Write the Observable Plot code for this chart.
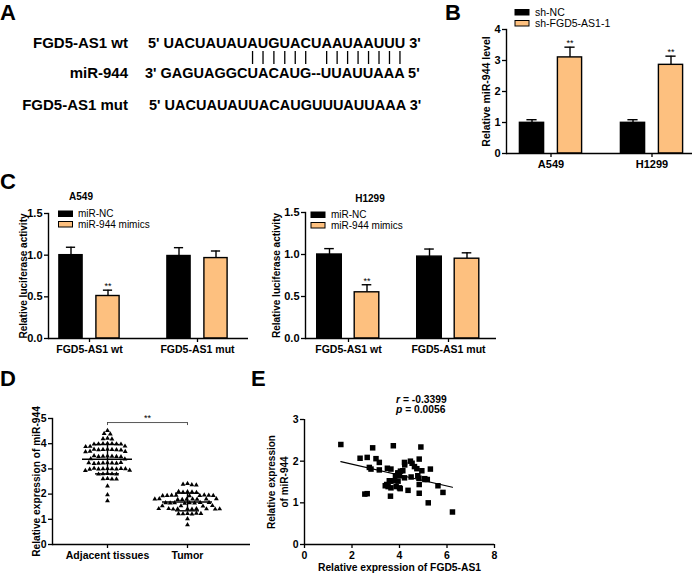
<!DOCTYPE html>
<html>
<head>
<meta charset="utf-8">
<script src="https://cdn.jsdelivr.net/npm/d3@7"></script>
<script src="https://cdn.jsdelivr.net/npm/@observablehq/plot@0.6"></script>
<style>
  html, body { margin: 0; padding: 0; background: #fff; }
  #fig { position: relative; width: 696px; height: 577px; overflow: hidden; background: #fff; }
  #fig svg { position: absolute; }
</style>
</head>
<body>
<div id="fig"></div>
<script>
const FONT = '"Liberation Sans", Arial, Helvetica, sans-serif';
const ORANGE = "#FDC07F";

// ---------- Panel A : sequences ----------
const seqNames = ["FGD5-AS1 wt", "miR-944", "FGD5-AS1 mut"];
const seqStrings = ["5' UACUAUAUAUGUACUAAUAAUUU 3'", "3' GAGUAGGCUACAUG--UUAUUAAA 5'", "5' UACUAUAUUACAUGUUUAUUAAA 3'"];
const pairedLetters = [8, 9, 10, 11, 12, 13, 15, 16, 17, 18, 19, 20, 21, 22];

// ---------- Panel B ----------
const bGroups = ["A549", "H1299"];
const bSeries = ["sh-NC", "sh-FGD5-AS1-1"];
const bNC = [0.99, 0.99];
const bNCErr = [0.10, 0.10];
const bSh = [3.10, 2.86];
const bShErr = [0.33, 0.28];
const bShSig = ["**", "**"];
const bTicks = [0, 1, 2, 3, 4];

// ---------- Panel C ----------
const cGroups = ["FGD5-AS1 wt", "FGD5-AS1 mut"];
const cSeries = ["miR-NC", "miR-944 mimics"];
const cA549NC = [1.00, 0.99];
const cA549NCErr = [0.095, 0.10];
const cA549Mim = [0.51, 0.965];
const cA549MimErr = [0.07, 0.085];
const cA549Sig = ["**", ""];
const cH1299NC = [1.00, 0.975];
const cH1299NCErr = [0.07, 0.09];
const cH1299Mim = [0.55, 0.95];
const cH1299MimErr = [0.09, 0.07];
const cH1299Sig = ["**", ""];
const cTicks = [0, 0.5, 1.0, 1.5];

// ---------- Panel D ----------
const dCats = ["Adjacent tissues", "Tumor"];
const dAdjacent = [4.52, 4.40, 4.38, 4.21, 4.19, 4.18,
  4.01, 4.00, 4.00, 3.99, 3.99, 3.98, 3.98, 3.90, 3.89, 3.88,
  3.78, 3.77, 3.77, 3.76, 3.76, 3.75, 3.78, 3.70, 3.69, 3.68,
  3.51, 3.50, 3.50, 3.49, 3.49, 3.48, 3.52, 3.40, 3.39,
  3.24, 3.23, 3.23, 3.22, 3.22, 3.21, 3.25, 3.24,
  3.01, 3.00, 3.00, 2.99, 2.99, 3.02, 3.01, 2.98, 3.00, 2.94, 2.93,
  2.81, 2.80, 2.80, 2.79, 2.79, 2.62, 2.61, 2.60, 2.60, 2.32, 1.97, 1.73];
const dTumor = [2.42, 2.39, 2.37, 2.36,
  2.09, 2.07, 2.08, 2.06, 2.10,
  1.95, 1.94, 1.95, 1.93, 1.96, 1.94, 1.95, 1.93, 1.94,
  1.79, 1.80, 1.78, 1.81, 1.79, 1.80, 1.78, 1.81, 1.80,
  1.65, 1.64, 1.66, 1.65, 1.63, 1.64, 1.66, 1.65,
  1.53, 1.52, 1.54, 1.53,
  1.41, 1.40, 1.42, 1.41, 1.40, 1.42, 1.41, 1.40, 1.42, 1.41,
  1.23, 1.22, 1.21, 1.24, 1.22, 1.23, 1.02, 0.78];
const dTicks = [0, 1, 2, 3, 4, 5];
const dSigY = 4.84;
const dSigDrop = 0.12;
const dSigLabel = "**";

// ---------- Panel E ----------
const eX = [1.53, 2.87, 3.74, 4.90, 2.34, 2.64, 3.01, 3.15, 2.73, 2.80, 3.15, 3.49, 3.64,
  4.46, 4.53, 4.83, 4.22, 4.63, 4.73, 4.94, 5.30, 3.93, 4.04, 4.14, 3.83, 4.00, 4.21,
  4.49, 4.77, 4.82, 5.07, 5.17, 3.63, 3.78, 3.94, 3.40, 3.52, 3.64, 3.86, 4.03, 4.83,
  5.62, 4.36, 3.62, 2.54, 2.64, 4.83, 5.83, 5.21, 6.23, 3.57, 3.46, 3.93, 4.21, 5.06, 4.00];
const eY = [2.40, 2.32, 2.37, 2.34, 2.07, 2.09, 2.06, 1.97, 1.85, 1.81, 1.79, 1.83, 1.81,
  2.00, 1.95, 2.05, 1.91, 1.87, 1.82, 1.77, 1.81, 1.72, 1.76, 1.77, 1.65, 1.65, 1.60,
  1.62, 1.65, 1.59, 1.56, 1.56, 1.52, 1.53, 1.52, 1.41, 1.39, 1.36, 1.39, 1.34, 1.44,
  1.41, 1.30, 1.16, 1.21, 1.22, 1.23, 1.25, 1.00, 0.78, 1.53, 1.44, 1.69, 1.97, 1.58, 1.36];
const eXTicks = [0, 2, 4, 6, 8];
const eYTicks = [0, 1, 2, 3];
const eStatR = "-0.3399";
const eStatP = "0.0056";

const fig = document.getElementById("fig");

function place(svg, left, top) {
  svg.style.left = left + "px";
  svg.style.top = top + "px";
  svg.style.position = "absolute";
  fig.appendChild(svg);
}

const baseStyle = { background: "transparent", fontFamily: FONT, fontWeight: "bold", color: "#000", overflow: "visible" };

// ---------- bar chart builder (B and C) ----------
function barChart(o) {
  const band = d3.scaleBand().domain(o.groups).range(o.xRange).paddingInner(0.2).paddingOuter(0.1);
  const bw = band.bandwidth();
  const marks = [];
  o.series.forEach((s, k) => {
    const rows = o.groups.map((g, i) => ({ g, v: o.values[k][i], e: o.errors[k][i], sig: o.sig[k][i] }));
    const off = o.offsets[k];
    const iL = bw / 2 + off - o.barW / 2;
    const iR = bw - iL - o.barW;
    const cL = bw / 2 + off - o.cap;
    const cR = bw - cL - 2 * o.cap;
    marks.push(Plot.ruleX(rows, { x: "g", y1: "v", y2: d => d.v + d.e, dx: off, stroke: "#000", strokeWidth: 1.4 }));
    marks.push(Plot.tickY(rows, { x: "g", y: d => d.v + d.e, insetLeft: cL, insetRight: cR, stroke: "#000", strokeWidth: 1.4 }));
    marks.push(Plot.barY(rows, { x: "g", y: "v", fill: k === 0 ? "#000" : ORANGE, stroke: "#000", strokeWidth: 1.4, insetLeft: iL, insetRight: iR }));
    marks.push(Plot.text(rows.filter(d => d.sig), { x: "g", y: d => d.v + d.e, text: "sig", dx: off, dy: -4, fontSize: 9, fontWeight: "normal" }));
  });
  marks.push(Plot.ruleY([0], { stroke: "#000", strokeWidth: 1.4 }));
  marks.push(Plot.frame({ anchor: "left", stroke: "#000", strokeWidth: 1.4 }));
  marks.push(Plot.axisY({ ticks: o.yTicks, tickFormat: o.fmt, tickSize: 4, tickPadding: 2, fontSize: o.tickFont, fontWeight: "bold", strokeWidth: 1.3, label: null }));
  marks.push(Plot.axisX({ tickSize: 4, tickPadding: 3, fontSize: o.xFont, fontWeight: "bold", strokeWidth: 1.3, label: null }));
  marks.push(Plot.text([o.yTitle], { text: d => d, frameAnchor: "left", textAnchor: "middle", rotate: -90, dx: o.titleDx, fontSize: o.titleFont, fontWeight: "bold" }));
  const svg = Plot.plot({
    width: o.width, height: o.height,
    marginLeft: o.mL, marginRight: o.mR, marginTop: o.mT, marginBottom: o.mB,
    x: { type: "band", domain: o.groups, range: o.xRange, paddingInner: 0.2, paddingOuter: 0.1 },
    y: { domain: [0, o.yMax] },
    style: baseStyle,
    marks
  });
  place(svg, o.left, o.top);
}

// Panel B
barChart({
  left: 470, top: 0, width: 226, height: 175, mL: 36, mR: 4, mT: 29, mB: 22,
  groups: bGroups, series: bSeries,
  values: [bNC, bSh], errors: [bNCErr, bShErr], sig: [["", ""], bShSig],
  yMax: 4, yTicks: bTicks, fmt: d3.format("d"),
  xRange: [29.5, 231.5], barW: 24, offsets: [-19, 19], cap: 5,
  tickFont: 11, xFont: 11, yTitle: "Relative miR-944 level", titleDx: -20, titleFont: 10.5
});

// Panel C - A549
barChart({
  left: 0, top: 185, width: 252, height: 180, mL: 48, mR: 4, mT: 28, mB: 27,
  groups: cGroups, series: cSeries,
  values: [cA549NC, cA549Mim], errors: [cA549NCErr, cA549MimErr], sig: [["", ""], cA549Sig],
  yMax: 1.5, yTicks: cTicks, fmt: d3.format(".1f"),
  xRange: [34.25, 251.25], barW: 24, offsets: [-18.5, 18.5], cap: 5,
  tickFont: 11, xFont: 10.5, yTitle: "Relative luciferase activity", titleDx: -25, titleFont: 10
});

// Panel C - H1299
barChart({
  left: 255, top: 185, width: 245, height: 180, mL: 50, mR: 4, mT: 27, mB: 27,
  groups: cGroups, series: cSeries,
  values: [cH1299NC, cH1299Mim], errors: [cH1299NCErr, cH1299MimErr], sig: [["", ""], cH1299Sig],
  yMax: 1.5, yTicks: cTicks, fmt: d3.format(".1f"),
  xRange: [42.75, 243.75], barW: 25, offsets: [-19, 18.5], cap: 5,
  tickFont: 11, xFont: 10.5, yTitle: "Relative luciferase activity", titleDx: -29, titleFont: 10
});

// ---------- Panel D ----------
(function () {
  const W = 255, H = 172, mL = 52, mR = 5, mT = 13, mB = 33;
  const xRange = [107, 187];
  const pos = d3.scalePoint().domain(dCats).range(xRange).padding(0);
  const mid = (mL + W - mR) / 2;
  const groups = [dAdjacent, dTumor];
  const summary = dCats.map((c, i) => ({ c, mean: d3.mean(groups[i]), sd: d3.deviation(groups[i]) }));
  const marks = [];
  dCats.forEach((c, i) => {
    const rows = groups[i].map(v => ({ c, v }));
    marks.push(Plot.dot(rows, Plot.dodgeX({ anchor: "middle", padding: 0.9 },
      { y: "v", r: 1.8, symbol: "triangle", fill: "#000", stroke: "none", dx: pos(c) - mid })));
  });
  marks.push(Plot.ruleY(summary, { x1: "c", x2: "c", y: "mean", insetLeft: -25, insetRight: -25, stroke: "#000", strokeWidth: 1.6 }));
  marks.push(Plot.ruleY(summary, { x1: "c", x2: "c", y: d => d.mean + d.sd, insetLeft: -12, insetRight: -12, stroke: "#000", strokeWidth: 1.4 }));
  marks.push(Plot.ruleY(summary, { x1: "c", x2: "c", y: d => d.mean - d.sd, insetLeft: -12, insetRight: -12, stroke: "#000", strokeWidth: 1.4 }));
  marks.push(Plot.ruleX(summary, { x: "c", y1: d => d.mean - d.sd, y2: d => d.mean + d.sd, stroke: "#000", strokeWidth: 1.4 }));
  // significance bracket
  marks.push(Plot.ruleY([dSigY], { x1: () => dCats[0], x2: () => dCats[1], y: d => d, stroke: "#444", strokeWidth: 0.9 }));
  marks.push(Plot.ruleX(dCats, { x: d => d, y1: dSigY - dSigDrop, y2: dSigY, stroke: "#444", strokeWidth: 0.9 }));
  marks.push(Plot.text([dSigLabel], { x: () => dCats[0], y: dSigY, text: d => d, dx: (pos(dCats[1]) - pos(dCats[0])) / 2, dy: -4, fontSize: 9, fontWeight: "normal" }));
  // axes
  marks.push(Plot.ruleY([0], { stroke: "#000", strokeWidth: 1.4 }));
  marks.push(Plot.frame({ anchor: "left", stroke: "#000", strokeWidth: 1.4 }));
  marks.push(Plot.axisY({ ticks: dTicks, tickFormat: d3.format("d"), tickSize: 4, tickPadding: 2, fontSize: 10.5, fontWeight: "bold", strokeWidth: 1.3, label: null }));
  marks.push(Plot.axisX({ tickSize: 4, tickPadding: 3, fontSize: 10.5, fontWeight: "bold", strokeWidth: 1.3, label: null }));
  marks.push(Plot.text(["Relative expression of miR-944"], { text: d => d, frameAnchor: "left", textAnchor: "middle", rotate: -90, dx: -16, fontSize: 10.2, fontWeight: "bold" }));
  const svg = Plot.plot({
    width: W, height: H, marginLeft: mL, marginRight: mR, marginTop: mT, marginBottom: mB,
    x: { type: "point", domain: dCats, range: xRange, padding: 0 },
    y: { domain: [0, 5] },
    style: baseStyle,
    marks
  });
  place(svg, 0, 405);
})();

// ---------- Panel E ----------
(function () {
  const rows = eX.map((x, i) => ({ x, y: eY[i] }));
  const svg = Plot.plot({
    width: 250, height: 172, marginLeft: 54, marginRight: 6, marginTop: 14, marginBottom: 33,
    x: { domain: [0, 8] },
    y: { domain: [0, 3] },
    style: baseStyle,
    marks: [
      Plot.linearRegressionY(rows, { x: "x", y: "y", ci: 0, stroke: "#000", strokeWidth: 1.2 }),
      Plot.dot(rows, { x: "x", y: "y", symbol: "square", r: 3.1, fill: "#000", stroke: "none" }),
      Plot.ruleY([0], { stroke: "#000", strokeWidth: 1.4 }),
      Plot.ruleX([0], { stroke: "#000", strokeWidth: 1.4 }),
      Plot.axisY({ ticks: eYTicks, tickFormat: d3.format("d"), tickSize: 4, tickPadding: 2, fontSize: 10.5, fontWeight: "bold", strokeWidth: 1.3, label: null }),
      Plot.axisX({ ticks: eXTicks, tickFormat: d3.format("d"), tickSize: 4, tickPadding: 3, fontSize: 10.5, fontWeight: "bold", strokeWidth: 1.3, label: null }),
      Plot.text(["Relative expression\nof miR-944"], { text: d => d, frameAnchor: "left", textAnchor: "middle", rotate: -90, dx: -27.5, lineHeight: 1.3, fontSize: 10, fontWeight: "bold" }),
      Plot.text(["Relative expression of FGD5-AS1"], { text: d => d, frameAnchor: "bottom", textAnchor: "middle", dy: 26, fontSize: 10.3, fontWeight: "bold" })
    ]
  });
  place(svg, 250, 405);
})();

// ---------- Overlay: panel letters, panel A, legends, titles, stats ----------
(function () {
  const svg = d3.create("svg").attr("width", 696).attr("height", 577)
    .style("left", "0px").style("top", "0px").style("position", "absolute")
    .style("pointer-events", "none")
    .attr("font-family", FONT).attr("fill", "#000");
  fig.appendChild(svg.node());

  const letters = [["A", 0, 20], ["B", 445, 20], ["C", 0, 189], ["D", 0, 386], ["E", 251, 386]];
  svg.selectAll("text.letter").data(letters).join("text").attr("class", "letter")
    .attr("x", d => d[1]).attr("y", d => d[2]).attr("font-size", 22).attr("font-weight", "bold").text(d => d[0]);

  // Panel A
  const rowsY = [48, 78, 110];
  const seqX = [148, 145, 149];
  seqNames.forEach((n, i) => {
    svg.append("text").attr("x", 128).attr("y", rowsY[i]).attr("text-anchor", "end")
      .attr("font-size", 15).attr("font-weight", "bold").text(n);
  });
  const seqEls = seqStrings.map((s, i) => svg.append("text").attr("x", seqX[i]).attr("y", rowsY[i])
    .attr("font-size", 14.5).attr("font-weight", "bold").text(s));
  const wt = seqEls[0].node();
  pairedLetters.forEach(i => {
    const ext = wt.getExtentOfChar(3 + i);
    const cx = ext.x + ext.width / 2;
    svg.append("line").attr("x1", cx).attr("x2", cx).attr("y1", 51).attr("y2", 64)
      .attr("stroke", "#000").attr("stroke-width", 1.3);
  });

  // legends
  function legend(x, ys, names, textX, size) {
    names.forEach((n, k) => {
      svg.append("rect").attr("x", x).attr("y", ys[k]).attr("width", 14).attr("height", 5.5)
        .attr("fill", k === 0 ? "#000" : ORANGE).attr("stroke", "#000").attr("stroke-width", 1);
      svg.append("text").attr("x", textX).attr("y", ys[k] + 2.75 + size * 0.36)
        .attr("font-size", size).text(n);
    });
  }
  legend(515, [9.5, 20.5], bSeries, 535, 10.5);
  legend(58.5, [211, 221.5], cSeries, 78, 10);
  legend(311, [212, 222.5], cSeries, 331, 10);

  // C subtitles
  [["A549", 81, 200], ["H1299", 370, 201.5]].forEach(d => {
    svg.append("text").attr("x", d[1]).attr("y", d[2]).attr("text-anchor", "middle")
      .attr("font-size", 10).attr("font-weight", "bold").text(d[0]);
  });

  // E statistics
  const r = svg.append("text").attr("x", 396).attr("y", 402.5).attr("font-size", 10.3).attr("font-weight", "bold");
  r.append("tspan").attr("font-style", "italic").text("r");
  r.append("tspan").text(" = " + eStatR);
  const p = svg.append("text").attr("x", 396).attr("y", 413).attr("font-size", 10.3).attr("font-weight", "bold");
  p.append("tspan").attr("font-style", "italic").text("p");
  p.append("tspan").text(" = " + eStatP);
})();
</script>
</body>
</html>
